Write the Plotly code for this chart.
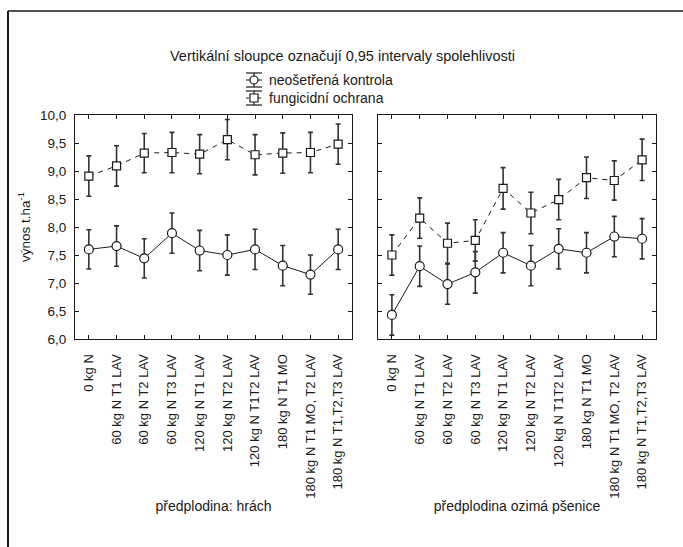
import plotly.graph_objects as go

categories = ["0 kg N", "60 kg N T1 LAV", "60 kg N T2 LAV", "60 kg N T3 LAV",
              "120 kg N T1 LAV", "120 kg N T2 LAV", "120 kg N T1T2 LAV",
              "180 kg N T1 MO", "180 kg N T1 MO, T2 LAV", "180 kg N T1,T2,T3 LAV"]

# left panel: předplodina hrách
left_control = [7.60, 7.66, 7.44, 7.89, 7.58, 7.50, 7.60, 7.31, 7.15, 7.60]
left_control_err = [0.35, 0.36, 0.35, 0.36, 0.36, 0.36, 0.36, 0.36, 0.35, 0.36]
left_fung = [8.91, 9.09, 9.32, 9.33, 9.30, 9.56, 9.29, 9.32, 9.33, 9.48]
left_fung_err = [0.36, 0.36, 0.35, 0.36, 0.35, 0.36, 0.36, 0.36, 0.36, 0.36]

# right panel: předplodina ozimá pšenice
right_control = [6.43, 7.30, 6.98, 7.19, 7.54, 7.31, 7.61, 7.54, 7.83, 7.79]
right_control_err = [0.36, 0.36, 0.36, 0.37, 0.36, 0.36, 0.36, 0.36, 0.36, 0.36]
right_fung = [7.50, 8.16, 7.71, 7.76, 8.69, 8.25, 8.49, 8.88, 8.83, 9.20]
right_fung_err = [0.36, 0.36, 0.36, 0.37, 0.37, 0.37, 0.36, 0.37, 0.35, 0.37]

y_ticks = [6.0, 6.5, 7.0, 7.5, 8.0, 8.5, 9.0, 9.5, 10.0]
y_ticktext = ["6,0", "6,5", "7,0", "7,5", "8,0", "8,5", "9,0", "9,5", "10,0"]

title_text = "Vertikální sloupce označují 0,95 intervaly spolehlivosti"
legend_names = ["neošetřená kontrola", "fungicidní ochrana"]
x_titles = ["předplodina: hrách", "předplodina ozimá pšenice"]
y_title = "výnos t.ha<sup>-1</sup>"

FONT = "Liberation Sans, Arial, sans-serif"
INK = "#1a1a1a"
FS = 13
W, H = 683, 547
ML, MR, MT, MB = 75, 27, 115, 208
PW, PH = W - ML - MR, H - MT - MB


def px(x):
    return (x - ML) / PW


def py(y):
    return (H - MB - y) / PH


fig = go.Figure()

xs = list(range(len(categories)))
panels = [("x", "y", left_control, left_control_err, left_fung, left_fung_err),
          ("x2", "y2", right_control, right_control_err, right_fung, right_fung_err)]
for xa, ya, ctl, ctl_e, fun, fun_e in panels:
    fig.add_trace(go.Scatter(
        x=xs, y=fun, xaxis=xa, yaxis=ya, mode="lines+markers",
        name=legend_names[1], showlegend=False,
        line=dict(color=INK, width=1, dash="5px,5px"),
        marker=dict(symbol="square", size=8, color="white", line=dict(color=INK, width=1.2)),
        error_y=dict(type="data", array=fun_e, visible=True, color="#333", thickness=1.6, width=2.5),
    ))
    fig.add_trace(go.Scatter(
        x=xs, y=ctl, xaxis=xa, yaxis=ya, mode="lines+markers",
        name=legend_names[0], showlegend=False,
        line=dict(color=INK, width=1),
        marker=dict(symbol="circle", size=9, color="white", line=dict(color=INK, width=1.2)),
        error_y=dict(type="data", array=ctl_e, visible=True, color="#333", thickness=1.6, width=2.5),
    ))

gap = (378 - 352) / PW
d1 = (352 - ML) / PW
common_x = dict(
    range=[-0.5, 9.5], tickmode="array", tickvals=xs, ticktext=categories,
    tickangle=-90, ticks="inside", ticklen=4, tickcolor=INK, tickwidth=1,
    showline=True, linecolor=INK, linewidth=1, mirror="ticks",
    showgrid=False, zeroline=False, ticklabelstandoff=9,
    tickfont=dict(family=FONT, size=FS, color=INK),
)
common_y = dict(
    range=[6.0, 10.0], tickmode="array", tickvals=y_ticks,
    ticks="inside", ticklen=4, tickcolor=INK, tickwidth=1,
    showline=True, linecolor=INK, linewidth=1, mirror="ticks",
    showgrid=False, zeroline=False,
    tickfont=dict(family=FONT, size=13.5, color=INK),
)
tfont = dict(family=FONT, size=14, color=INK)

fig.update_layout(
    width=W, height=H,
    margin=dict(l=ML, r=MR, t=MT, b=MB, pad=0),
    paper_bgcolor="white", plot_bgcolor="white",
    font=dict(family=FONT, size=FS, color=INK),
    showlegend=False,
    xaxis=dict(common_x, domain=[0, d1], anchor="y",
               title=dict(text=x_titles[0], font=tfont, standoff=3)),
    xaxis2=dict(common_x, domain=[d1 + gap, 1], anchor="y2",
                title=dict(text=x_titles[1], font=tfont, standoff=3)),
    yaxis=dict(common_y, domain=[0, 1], ticktext=y_ticktext, ticklabelstandoff=5,
               title=dict(text=y_title, font=dict(family=FONT, size=13.5, color=INK), standoff=6)),
    yaxis2=dict(common_y, domain=[0, 1], anchor="x2", showticklabels=False),
)

shapes = []
# outer frame (left and top edges)
shapes.append(dict(type="line", xref="paper", yref="paper", x0=px(8), x1=px(700), y0=py(11), y1=py(11),
                   line=dict(color=INK, width=1.5)))
shapes.append(dict(type="line", xref="paper", yref="paper", x0=px(8), x1=px(8), y0=py(11), y1=py(560),
                   line=dict(color=INK, width=2)))

# custom legend symbols
lx0, lx1, lxc = 246, 262, 254
rows = [80, 98]
for i, cy in enumerate(rows):
    for yy in (cy - 7, cy + 7):
        shapes.append(dict(type="line", xref="paper", yref="paper", x0=px(lx0), x1=px(lx1),
                           y0=py(yy), y1=py(yy), line=dict(color=INK, width=1.2)))
    shapes.append(dict(type="line", xref="paper", yref="paper", x0=px(lxc), x1=px(lxc),
                       y0=py(cy - 7), y1=py(cy + 7), line=dict(color=INK, width=1.2)))
    shapes.append(dict(type="line", xref="paper", yref="paper", x0=px(lx0), x1=px(lx1),
                       y0=py(cy), y1=py(cy), line=dict(color=INK, width=1, dash="solid" if i == 0 else "3px,3px")))
    stype = "circle" if i == 0 else "rect"
    shapes.append(dict(type=stype, xref="paper", yref="paper", xsizemode="pixel", ysizemode="pixel",
                       xanchor=px(lxc), yanchor=py(cy), x0=-4, x1=4, y0=-4, y1=4,
                       fillcolor="white", line=dict(color=INK, width=1.2), layer="above"))

annotations = [
    dict(text=title_text, xref="paper", yref="paper", x=px(342), y=py(56), showarrow=False,
         xanchor="center", yanchor="middle", font=dict(family=FONT, size=14.5, color=INK)),
]
for name, cy in zip(legend_names, rows):
    annotations.append(dict(text=name, xref="paper", yref="paper", x=px(267), y=py(cy), showarrow=False,
                            xanchor="left", yanchor="middle", font=dict(family=FONT, size=14, color=INK)))

fig.update_layout(shapes=shapes, annotations=annotations)

fig.write_html("out.html")
